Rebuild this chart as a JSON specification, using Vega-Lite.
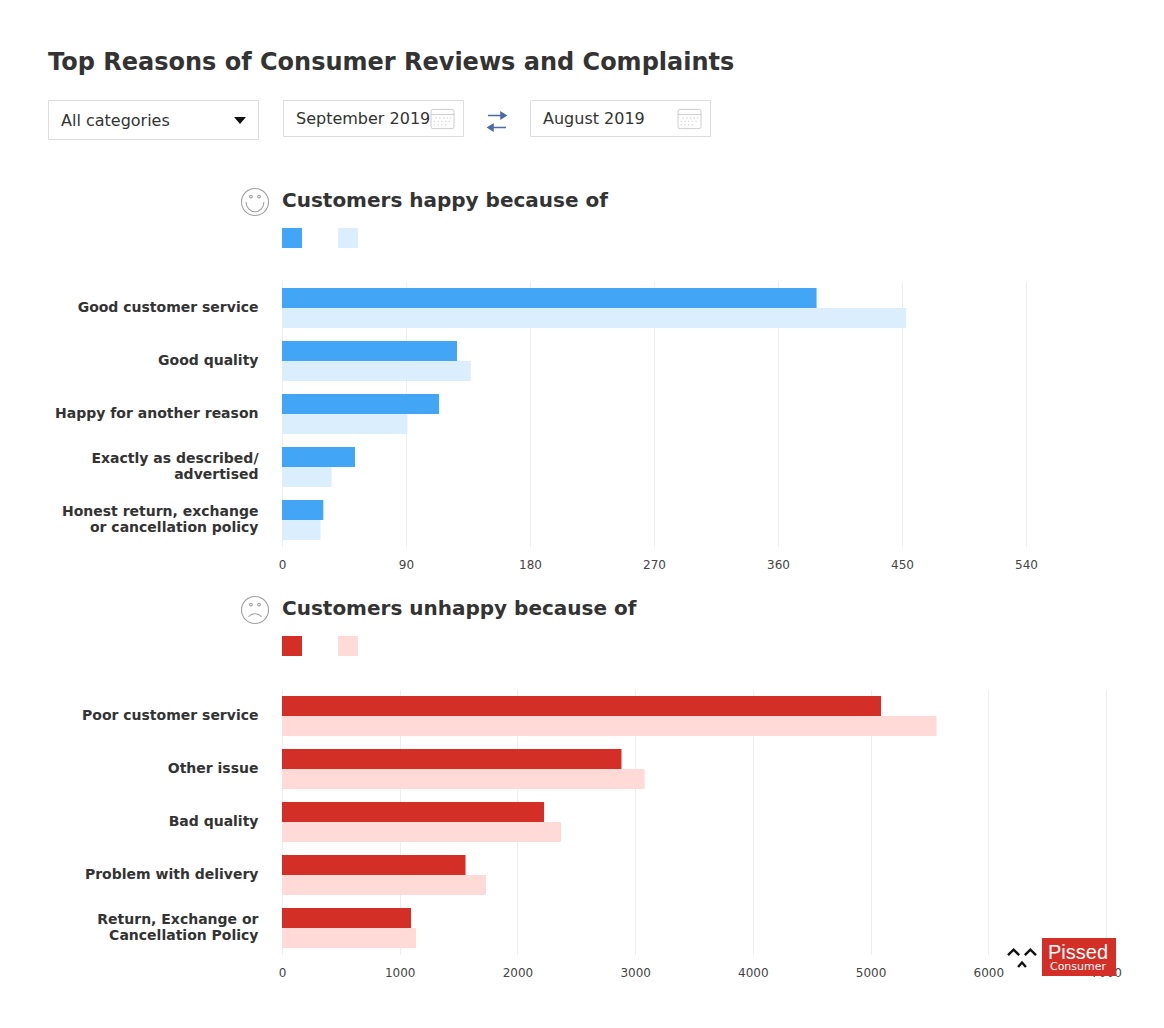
{
  "$schema": "https://vega.github.io/schema/vega-lite/v6.json",
  "description": "Top reasons of consumer reviews and complaints, September vs August 2019.",
  "background": "white",
  "padding": {"left": 48, "top": 50.5, "right": 48, "bottom": 48},
  "title": {
    "text": "Top Reasons of Consumer Reviews and Complaints",
    "anchor": "start",
    "frame": "bounds",
    "font": "DejaVu Sans",
    "fontSize": 24,
    "fontWeight": "bold",
    "color": "#333333",
    "offset": 15
  },
  "spacing": 143,
  "bounds": "flush",
  "resolve": {"scale": {"color": "independent"}, "legend": {"color": "independent"}},
  "config": {
    "view": {"stroke": null},
    "font": "DejaVu Sans",
    "title": {"font": "DejaVu Sans", "fontSize": 20, "fontWeight": "bold", "color": "#333333"},
    "axisX": {
      "domain": false,
      "ticks": false,
      "title": null,
      "gridColor": "#eeeeee",
      "labelFont": "DejaVu Sans",
      "labelFontSize": 12,
      "labelColor": "#444444",
      "labelPadding": 13,
      "labelAngle": 0,
      "labelFlush": false,
      "format": "d"
    },
    "axisY": {
      "domain": false,
      "ticks": false,
      "grid": false,
      "title": null,
      "labelFont": "DejaVu Sans",
      "labelFontSize": 14,
      "labelFontWeight": "bold",
      "labelColor": "#333333",
      "labelPadding": 24,
      "labelLimit": 240,
      "labelLineHeight": 16
    },
    "legend": {
      "orient": "none",
      "direction": "horizontal",
      "title": null,
      "symbolType": "square",
      "symbolSize": 400,
      "symbolStrokeWidth": 0,
      "labelOffset": 0,
      "labelFontSize": 1,
      "columnPadding": 36,
      "padding": 0
    }
  },
  "vconcat": [
    {
      "width": 824,
      "height": 48.5,
      "data": {"values": [{"item": "control"}]},
      "layer": [
        {
          "mark": {"type": "rect", "fill": "white", "stroke": "#dddddd"},
          "encoding": {
            "x": {"datum": 48.5, "axis": null, "scale": {"domain": [282, 1106], "range": [0, 824]}},
            "x2": {"datum": 258.5},
            "y": {"datum": 101, "axis": null, "scale": {"domain": [90, 138.5], "range": [0, 48.5]}},
            "y2": {"datum": 140}
          }
        },
        {
          "mark": {"type": "rect", "fill": "white", "stroke": "#dddddd"},
          "encoding": {
            "x": {"datum": 283.5, "axis": null, "scale": {"domain": [282, 1106], "range": [0, 824]}},
            "x2": {"datum": 463.5},
            "y": {"datum": 101, "axis": null, "scale": {"domain": [90, 138.5], "range": [0, 48.5]}},
            "y2": {"datum": 137}
          }
        },
        {
          "mark": {"type": "rect", "fill": "white", "stroke": "#dddddd"},
          "encoding": {
            "x": {"datum": 530.5, "axis": null, "scale": {"domain": [282, 1106], "range": [0, 824]}},
            "x2": {"datum": 710.5},
            "y": {"datum": 101, "axis": null, "scale": {"domain": [90, 138.5], "range": [0, 48.5]}},
            "y2": {"datum": 137}
          }
        },
        {
          "data": {"values": [{"control": "All categories"}]},
          "mark": {"type": "text", "align": "left", "baseline": "middle", "fontSize": 16, "color": "#333333"},
          "encoding": {
            "x": {"datum": 61, "axis": null, "scale": {"domain": [282, 1106], "range": [0, 824]}},
            "y": {"datum": 121.5, "axis": null, "scale": {"domain": [90, 138.5], "range": [0, 48.5]}},
            "text": {"field": "control"}
          }
        },
        {
          "data": {"values": [{"control": "September 2019"}]},
          "mark": {"type": "text", "align": "left", "baseline": "middle", "fontSize": 16, "color": "#333333"},
          "encoding": {
            "x": {"datum": 296, "axis": null, "scale": {"domain": [282, 1106], "range": [0, 824]}},
            "y": {"datum": 119.5, "axis": null, "scale": {"domain": [90, 138.5], "range": [0, 48.5]}},
            "text": {"field": "control"}
          }
        },
        {
          "data": {"values": [{"control": "August 2019"}]},
          "mark": {"type": "text", "align": "left", "baseline": "middle", "fontSize": 16, "color": "#333333"},
          "encoding": {
            "x": {"datum": 543, "axis": null, "scale": {"domain": [282, 1106], "range": [0, 824]}},
            "y": {"datum": 119.5, "axis": null, "scale": {"domain": [90, 138.5], "range": [0, 48.5]}},
            "text": {"field": "control"}
          }
        },
        {
          "mark": {"type": "point", "shape": "M-0.5,-0.3L0.5,-0.3L0,0.3Z", "filled": true, "fill": "#111111", "size": 576, "opacity": 1},
          "encoding": {
            "x": {"datum": 240, "axis": null, "scale": {"domain": [282, 1106], "range": [0, 824]}},
            "y": {"datum": 121, "axis": null, "scale": {"domain": [90, 138.5], "range": [0, 48.5]}}
          }
        },
        {
          "mark": {
            "type": "point",
            "filled": false,
            "stroke": "#cccccc",
            "strokeWidth": 1,
            "opacity": 1,
            "size": 2116,
            "shape": "M-0.5,-0.32Q-0.5,-0.42 -0.4,-0.42H0.4Q0.5,-0.42 0.5,-0.32V0.34Q0.5,0.42 0.4,0.42H-0.4Q-0.5,0.42 -0.5,0.34ZM-0.5,-0.2H0.5M-0.3,-0.04H-0.24M-0.14,-0.04H-0.08M0.02,-0.04H0.08M0.18,-0.04H0.24M0.32,-0.04H0.38M-0.38,0.1H-0.32M-0.22,0.1H-0.16M-0.06,0.1H0M0.1,0.1H0.16M0.26,0.1H0.32M-0.38,0.26H-0.32M-0.22,0.26H-0.16M-0.06,0.26H0M0.1,0.26H0.16"
          },
          "encoding": {
            "x": {"datum": 442.5, "axis": null, "scale": {"domain": [282, 1106], "range": [0, 824]}},
            "y": {"datum": 119.5, "axis": null, "scale": {"domain": [90, 138.5], "range": [0, 48.5]}}
          }
        },
        {
          "mark": {
            "type": "point",
            "filled": false,
            "stroke": "#cccccc",
            "strokeWidth": 1,
            "opacity": 1,
            "size": 2116,
            "shape": "M-0.5,-0.32Q-0.5,-0.42 -0.4,-0.42H0.4Q0.5,-0.42 0.5,-0.32V0.34Q0.5,0.42 0.4,0.42H-0.4Q-0.5,0.42 -0.5,0.34ZM-0.5,-0.2H0.5M-0.3,-0.04H-0.24M-0.14,-0.04H-0.08M0.02,-0.04H0.08M0.18,-0.04H0.24M0.32,-0.04H0.38M-0.38,0.1H-0.32M-0.22,0.1H-0.16M-0.06,0.1H0M0.1,0.1H0.16M0.26,0.1H0.32M-0.38,0.26H-0.32M-0.22,0.26H-0.16M-0.06,0.26H0M0.1,0.26H0.16"
          },
          "encoding": {
            "x": {"datum": 689.5, "axis": null, "scale": {"domain": [282, 1106], "range": [0, 824]}},
            "y": {"datum": 119.5, "axis": null, "scale": {"domain": [90, 138.5], "range": [0, 48.5]}}
          }
        },
        {
          "mark": {
            "type": "point",
            "filled": true,
            "fill": "#4a6aa8",
            "stroke": "#4a6aa8",
            "strokeWidth": 1.5,
            "opacity": 1,
            "size": 1600,
            "shape": "M-0.45,-0.3H0.2M0.2,-0.46L0.45,-0.3L0.2,-0.14ZM0.45,0.3H-0.2M-0.2,0.14L-0.45,0.3L-0.2,0.46Z"
          },
          "encoding": {
            "x": {"datum": 497, "axis": null, "scale": {"domain": [282, 1106], "range": [0, 824]}},
            "y": {"datum": 122, "axis": null, "scale": {"domain": [90, 138.5], "range": [0, 48.5]}}
          }
        }
      ]
    },
    {
      "width": 744,
      "height": 265,
      "title": {"text": "Customers happy because of", "anchor": "start", "frame": "group", "offset": -24.5},
      "layer": [
        {
          "data": {
            "values": [
              {"reason": "Good customer service", "period": "September 2019", "count": 388},
              {"reason": "Good customer service", "period": "August 2019", "count": 453},
              {"reason": "Good quality", "period": "September 2019", "count": 127},
              {"reason": "Good quality", "period": "August 2019", "count": 137},
              {"reason": "Happy for another reason", "period": "September 2019", "count": 114},
              {"reason": "Happy for another reason", "period": "August 2019", "count": 91},
              {"reason": "Exactly as described/|advertised", "period": "September 2019", "count": 53},
              {"reason": "Exactly as described/|advertised", "period": "August 2019", "count": 36},
              {"reason": "Honest return, exchange|or cancellation policy", "period": "September 2019", "count": 30},
              {"reason": "Honest return, exchange|or cancellation policy", "period": "August 2019", "count": 28}
            ]
          },
          "mark": {"type": "bar"},
          "encoding": {
            "x": {
              "field": "count",
              "type": "quantitative",
              "scale": {"domain": [0, 540]},
              "axis": {"values": [0, 90, 180, 270, 360, 450, 540]}
            },
            "y": {
              "field": "reason",
              "type": "nominal",
              "sort": null,
              "scale": {"paddingInner": 0.2453, "paddingOuter": 0.1226},
              "axis": {
                "labelExpr": "split(datum.label, '|')",
                "labelOffset": {"condition": {"test": "indexof(datum.value, '|') >= 0", "value": -8}, "value": 0}
              }
            },
            "yOffset": {
              "field": "period",
              "sort": ["September 2019", "August 2019"],
              "scale": {"paddingInner": 0, "paddingOuter": 0}
            },
            "color": {
              "field": "period",
              "type": "nominal",
              "scale": {"domain": ["September 2019", "August 2019"], "range": ["#42a5f5", "#dbeefe"]},
              "legend": {"legendX": 0, "legendY": -53.5, "labelExpr": "''"}
            }
          }
        },
        {
          "data": {"values": [{"mood": "happy"}]},
          "mark": {
            "type": "point",
            "filled": false,
            "stroke": "#a0a0a0",
            "strokeWidth": 1.1,
            "opacity": 1,
            "size": 2916,
            "shape": "M-0.5,0A0.5,0.5 0 1,1 0.5,0A0.5,0.5 0 1,1 -0.5,0ZM-0.2,-0.2A0.05,0.05 0 1,1 -0.1,-0.2A0.05,0.05 0 1,1 -0.2,-0.2ZM0.1,-0.2A0.05,0.05 0 1,1 0.2,-0.2A0.05,0.05 0 1,1 0.1,-0.2ZM-0.33,0A0.33,0.36 0 0,0 0.33,0"
          },
          "encoding": {
            "x": {"datum": -27, "axis": null, "scale": {"domain": [0, 744], "range": [0, 744]}},
            "y": {"datum": -79.5, "axis": null, "scale": {"domain": [0, 265], "range": [0, 265]}}
          }
        }
      ],
      "resolve": {"scale": {"x": "independent", "y": "independent"}}
    },
    {
      "width": 824,
      "height": 265,
      "title": {"text": "Customers unhappy because of", "anchor": "start", "frame": "group", "offset": -24.5},
      "layer": [
        {
          "data": {
            "values": [
              {"reason": "Poor customer service", "period": "September 2019", "count": 5089},
              {"reason": "Poor customer service", "period": "August 2019", "count": 5560},
              {"reason": "Other issue", "period": "September 2019", "count": 2884},
              {"reason": "Other issue", "period": "August 2019", "count": 3080},
              {"reason": "Bad quality", "period": "September 2019", "count": 2226},
              {"reason": "Bad quality", "period": "August 2019", "count": 2370},
              {"reason": "Problem with delivery", "period": "September 2019", "count": 1559},
              {"reason": "Problem with delivery", "period": "August 2019", "count": 1733},
              {"reason": "Return, Exchange or|Cancellation Policy", "period": "September 2019", "count": 1096},
              {"reason": "Return, Exchange or|Cancellation Policy", "period": "August 2019", "count": 1138}
            ]
          },
          "mark": {"type": "bar"},
          "encoding": {
            "x": {
              "field": "count",
              "type": "quantitative",
              "scale": {"domain": [0, 7000]},
              "axis": {"values": [0, 1000, 2000, 3000, 4000, 5000, 6000, 7000]}
            },
            "y": {
              "field": "reason",
              "type": "nominal",
              "sort": null,
              "scale": {"paddingInner": 0.2453, "paddingOuter": 0.1226},
              "axis": {
                "labelExpr": "split(datum.label, '|')",
                "labelOffset": {"condition": {"test": "indexof(datum.value, '|') >= 0", "value": -8}, "value": 0}
              }
            },
            "yOffset": {
              "field": "period",
              "sort": ["September 2019", "August 2019"],
              "scale": {"paddingInner": 0, "paddingOuter": 0}
            },
            "color": {
              "field": "period",
              "type": "nominal",
              "scale": {"domain": ["September 2019", "August 2019"], "range": ["#d32f27", "#ffdad6"]},
              "legend": {"legendX": 0, "legendY": -53.5, "labelExpr": "''"}
            }
          }
        },
        {
          "data": {"values": [{"mood": "unhappy"}]},
          "mark": {
            "type": "point",
            "filled": false,
            "stroke": "#a0a0a0",
            "strokeWidth": 1.1,
            "opacity": 1,
            "size": 2916,
            "shape": "M-0.5,0A0.5,0.5 0 1,1 0.5,0A0.5,0.5 0 1,1 -0.5,0ZM-0.2,-0.2A0.05,0.05 0 1,1 -0.1,-0.2A0.05,0.05 0 1,1 -0.2,-0.2ZM0.1,-0.2A0.05,0.05 0 1,1 0.2,-0.2A0.05,0.05 0 1,1 0.1,-0.2ZM-0.24,0.26A0.3,0.3 0 0,1 0.24,0.26"
          },
          "encoding": {
            "x": {"datum": -27, "axis": null, "scale": {"domain": [0, 824], "range": [0, 824]}},
            "y": {"datum": -79.5, "axis": null, "scale": {"domain": [0, 265], "range": [0, 265]}}
          }
        },
        {
          "data": {"values": [{"logo": "Pissed Consumer"}]},
          "mark": {"type": "rect", "fill": "#d32f27"},
          "encoding": {
            "x": {"datum": 760, "axis": null, "scale": {"domain": [0, 824], "range": [0, 824]}},
            "x2": {"datum": 834},
            "y": {"datum": 248.5, "axis": null, "scale": {"domain": [0, 265], "range": [0, 265]}},
            "y2": {"datum": 286.5}
          }
        },
        {
          "data": {"values": [{"logo": "Pissed"}]},
          "mark": {"type": "text", "align": "center", "baseline": "middle", "fontSize": 20, "font": "Liberation Sans", "color": "white"},
          "encoding": {
            "x": {"datum": 796, "axis": null, "scale": {"domain": [0, 824], "range": [0, 824]}},
            "y": {"datum": 263.5, "axis": null, "scale": {"domain": [0, 265], "range": [0, 265]}},
            "text": {"field": "logo"}
          }
        },
        {
          "data": {"values": [{"logo": "Consumer"}]},
          "mark": {"type": "text", "align": "center", "baseline": "middle", "fontSize": 11, "font": "DejaVu Sans", "color": "white"},
          "encoding": {
            "x": {"datum": 796, "axis": null, "scale": {"domain": [0, 824], "range": [0, 824]}},
            "y": {"datum": 277.5, "axis": null, "scale": {"domain": [0, 265], "range": [0, 265]}},
            "text": {"field": "logo"}
          }
        },
        {
          "data": {"values": [{"logo": "face"}]},
          "mark": {
            "type": "point",
            "filled": false,
            "stroke": "#111111",
            "strokeWidth": 2.4,
            "opacity": 1,
            "size": 3136,
            "shape": "M-0.5,-0.1L-0.3,-0.3L-0.1,-0.1M0.1,-0.1L0.3,-0.3L0.5,-0.1M-0.14,0.32L0,0.16L0.14,0.32"
          },
          "encoding": {
            "x": {"datum": 740, "axis": null, "scale": {"domain": [0, 824], "range": [0, 824]}},
            "y": {"datum": 268.5, "axis": null, "scale": {"domain": [0, 265], "range": [0, 265]}}
          }
        }
      ],
      "resolve": {"scale": {"x": "independent", "y": "independent"}}
    }
  ]
}
